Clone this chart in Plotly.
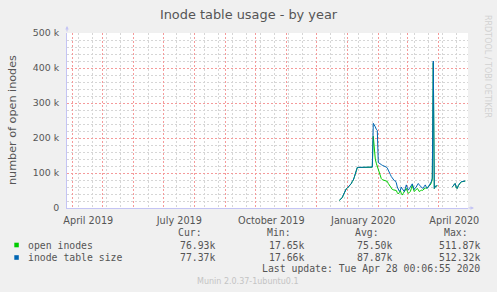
import pandas as pd
import plotly.graph_objects as go

# ---------------- data (values in thousands) ----------------
start_date = "2019-12-24"
open_inodes = [
    21.5, 24.6, 27.6, 29.6, 36.6, 44.6, 49.6, 54.6, 56.6, 59.6, 60.6, 63.6, 69.6, 75.6, 79.6, 87.6,
    96.6, 111.6, 115.6, 115.6, 115.6, 115.6, 115.6, 115.6, 115.6, 115.6, 115.6, 115.6, 115.6, 115.6,
    115.6, 115.6, 116.6, 116.6, 205, 155, 140, 128, 118, 110, 98, 88, 84, 81, 80, 80, 79, 78, 76, 70,
    66, 62, 56, 53, 52, 51, 51, 50, 44, 40, 44, 50, 42, 37, 42, 47, 52, 56, 48, 42, 44, 47, 55, 66,
    55, 47, 50, 54, 56, 52, 47, 49, 51, 50, 52, 55, 57, 56, 58, 60, 63, 66, 72, 82, 415, 55.6, 61.6,
    62.6, 63.6,
    None, None, None, None, None, None, None, None, None, None, None, None, None, None,
    60.6, 62.6, 67.6, 69.6, 57.6, 55.6, 63.6, 69.6, 71.6, 74.6, 75.6, 76.6, 76.6, 76.93,
]
inode_table_size = [
    22, 25, 28, 30, 37, 45, 50, 55, 57, 60, 61, 64, 70, 76, 80, 88,
    97, 112, 116, 116, 116, 116, 116, 116, 116, 116, 116, 116, 116, 116,
    116, 117, 117, 117, 242, 238, 232, 225, 222, 130, 127, 125, 124, 122, 121, 120, 118, 117, 114, 106,
    100, 96, 90, 86, 82, 78, 78, 72, 60, 54, 48, 50, 60, 55, 50, 47, 55, 66, 58, 51, 55, 59, 64, 69,
    60, 53, 58, 60, 66, 70, 66, 61, 60, 57, 56, 62, 66, 60, 56, 60, 64, 68, 75, 85, 420, 56, 62,
    63, 64,
    None, None, None, None, None, None, None, None, None, None, None, None, None, None,
    61, 63, 68, 70, 58, 56, 64, 70, 72, 75, 76, 77, 77, 77.37,
]
dates = pd.date_range(start_date, periods=len(inode_table_size), freq="D")

series_names = ["open inodes", "inode table size"]
series_colors = ["#00CC00", "#0066B3"]
stat_headers = ["Cur:", "Min:", "Avg:", "Max:"]
stat_values = [
    ["76.93k", "17.65k", "75.50k", "511.87k"],
    ["77.37k", "17.66k", "87.87k", "512.32k"],
]
month_ticks = pd.date_range("2019-04-01", "2020-04-01", freq="MS")
month_labels = {"2019-04": "April 2019", "2019-07": "July 2019", "2019-10": "October 2019",
                "2020-01": "January 2020", "2020-04": "April 2020"}
y_tickvals = [0, 100, 200, 300, 400, 500]
y_ticktext = ["0", "100 k", "200 k", "300 k", "400 k", "500 k"]
y_minor_vals = [20, 40, 60, 80, 120, 140, 160, 180, 220, 240, 260, 280,
                320, 340, 360, 380, 420, 440, 460, 480]

# minor (grey) vertical grid: every two weeks, skipping those that sit on a month line
biweekly = pd.date_range("2019-04-07", "2020-04-30", freq="14D")
x_minor_vals = [d for d in biweekly if 3 <= d.day <= d.days_in_month - 2]

# ---------------- layout geometry ----------------
W, H = 497, 292
L, R, T, B = 67, 468, 33, 208


def px(x):
    return (x - L) / (R - L)


def py(y):
    return (B - y) / (B - T)


TXT = "#555555"
MONO = "DejaVu Sans Mono"
SANS = "DejaVu Sans"
AXIS_C = "#c4c4f4"
MAJ = "#f59a9a"
MIN = "#d6d6d6"
DASH = "2px,2px"

fig = go.Figure()
fig.add_trace(go.Scatter(x=dates, y=open_inodes, mode="lines", name=series_names[0],
                         line=dict(color=series_colors[0], width=1), connectgaps=False))
fig.add_trace(go.Scatter(x=dates, y=inode_table_size, mode="lines", name=series_names[1],
                         line=dict(color=series_colors[1], width=1), connectgaps=False))

ticktext = [month_labels.get(d.strftime("%Y-%m"), "") for d in month_ticks]

fig.update_layout(
    width=W, height=H,
    margin=dict(l=L, r=W - R, t=T, b=H - B, pad=0),
    paper_bgcolor="#f0f0f0", plot_bgcolor="#ffffff",
    showlegend=False,
    font=dict(family=SANS, color=TXT, size=9.6),
    title=dict(text="Inode table usage - by year", x=0.5, xanchor="center",
               y=1 - 14 / H, yanchor="middle", yref="container",
               font=dict(family=SANS, size=12.9, color=TXT)),
    xaxis=dict(
        type="date",
        range=["2019-03-26 17:00", "2020-04-30 17:00"],
        tickmode="array", tickvals=list(month_ticks), ticktext=ticktext,
        ticklabelshift=16,
        showgrid=True, gridcolor=MAJ, griddash=DASH, gridwidth=1,
        ticks="outside", ticklen=3, tickcolor="rgba(0,0,0,0)",
        showline=True, linecolor=AXIS_C, linewidth=1,
        zeroline=False,
        tickfont=dict(family=SANS, size=9.7, color=TXT),
        minor=dict(tickmode="array", tickvals=x_minor_vals, showgrid=True,
                   gridcolor=MIN, griddash=DASH, gridwidth=1, ticks=""),
        fixedrange=True,
    ),
    yaxis=dict(
        range=[0, 500],
        tickmode="array", tickvals=y_tickvals, ticktext=y_ticktext,
        showgrid=True, gridcolor=MAJ, griddash=DASH, gridwidth=1,
        ticks="outside", ticklen=5, tickcolor="rgba(0,0,0,0)",
        showline=True, linecolor=AXIS_C, linewidth=1,
        zeroline=False,
        tickfont=dict(family=SANS, size=9.4, color=TXT),
        minor=dict(tickmode="array", tickvals=y_minor_vals, showgrid=True, gridcolor=MIN,
                   griddash=DASH, gridwidth=1, ticks=""),
        fixedrange=True,
    ),
)

ann = []
# y-axis title
ann.append(dict(text="number of open inodes", x=px(12), y=py(120), xref="paper", yref="paper",
                showarrow=False, textangle=-90, xanchor="center", yanchor="middle",
                font=dict(family=SANS, size=11.2, color=TXT)))
# watermark
ann.append(dict(text="RRDTOOL / TOBI OETIKER", x=px(488), y=py(66), xref="paper", yref="paper",
                showarrow=False, textangle=90, xanchor="center", yanchor="middle",
                font=dict(family=SANS, size=8, color="#d2d2d2")))
# axis arrows
ann.append(dict(x=px(67), y=py(26), xref="paper", yref="paper", ax=0, ay=7, showarrow=True,
                arrowhead=2, arrowsize=0.7, arrowwidth=1, arrowcolor=AXIS_C, text=""))
ann.append(dict(x=px(474), y=py(208), xref="paper", yref="paper", ax=-7, ay=0, showarrow=True,
                arrowhead=2, arrowsize=0.7, arrowwidth=1, arrowcolor=AXIS_C, text=""))

# legend table
header_right = [204, 293, 381, 470]
value_right = [217, 306, 394, 482]
for hdr, xr in zip(stat_headers, header_right):
    ann.append(dict(text=hdr, x=px(xr), y=py(232.5), xref="paper", yref="paper", showarrow=False,
                    xanchor="right", yanchor="middle", font=dict(family=MONO, size=9.8, color=TXT)))
row_y = [245, 257.5]
shapes = []
for name, col, vals, ry in zip(series_names, series_colors, stat_values, row_y):
    shapes.append(dict(type="rect", xref="paper", yref="paper",
                       x0=px(14.3), x1=px(18.8), y0=py(ry - 2.3), y1=py(ry + 2.3),
                       fillcolor=col, line=dict(width=0)))
    ann.append(dict(text=name, x=px(26.3), y=py(ry), xref="paper", yref="paper", showarrow=False,
                    xanchor="left", yanchor="middle", font=dict(family=MONO, size=9.8, color=TXT)))
    for v, xr in zip(vals, value_right):
        ann.append(dict(text=v, x=px(xr), y=py(ry), xref="paper", yref="paper", showarrow=False,
                        xanchor="right", yanchor="middle", font=dict(family=MONO, size=9.8, color=TXT)))
ann.append(dict(text="Last update: Tue Apr 28 00:06:55 2020", x=px(482), y=py(268.5), xref="paper",
                yref="paper", showarrow=False, xanchor="right", yanchor="middle",
                font=dict(family=MONO, size=9.8, color=TXT)))
ann.append(dict(text="Munin 2.0.37-1ubuntu0.1", x=px(247.5), y=py(281), xref="paper", yref="paper",
                showarrow=False, xanchor="center", yanchor="middle",
                font=dict(family=SANS, size=8, color="#c4c4c4")))

fig.update_layout(annotations=ann, shapes=shapes)
fig.write_html("out.html")
